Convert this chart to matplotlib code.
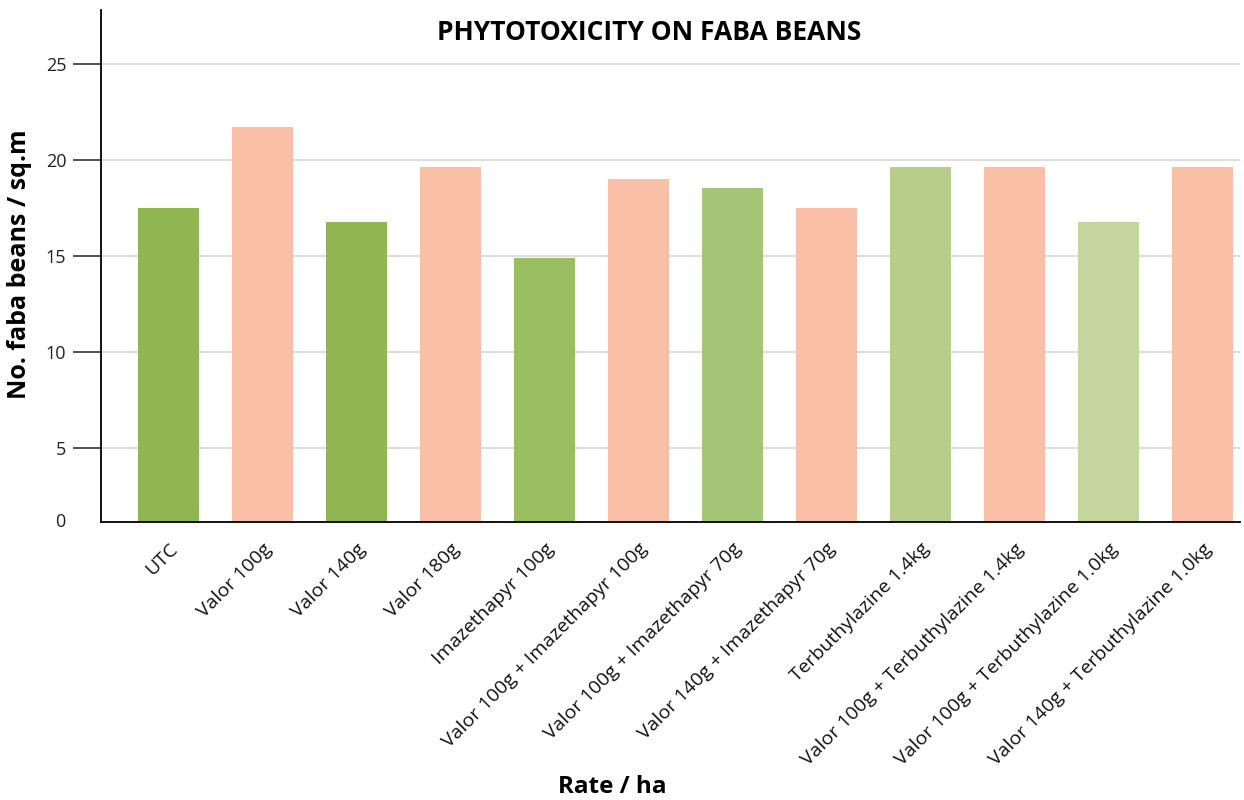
import matplotlib.pyplot as plt

# data
treatments = ['UTC', 'Valor 100g', 'Valor 140g', 'Valor 180g', 'Imazethapyr 100g',
              'Valor 100g + Imazethapyr 100g', 'Valor 100g + Imazethapyr 70g',
              'Valor 140g + Imazethapyr 70g', 'Terbuthylazine 1.4kg',
              'Valor 100g + Terbuthylazine 1.4kg', 'Valor 100g + Terbuthylazine 1.0kg',
              'Valor 140g + Terbuthylazine 1.0kg']
beans = [17.5, 21.7, 16.75, 19.6, 14.9, 19.0, 18.5, 17.5, 19.6, 19.6, 16.75, 19.6]
colors = ['#8fb650', '#f9bfa7', '#8fb650', '#f9bfa7', '#9abd5f', '#f9bfa7',
          '#a6c576', '#f9bfa7', '#b7cd8b', '#f9bfa7', '#c4d59e', '#f9bfa7']
yticks = [5, 10, 15, 20, 25]

plt.rcParams['font.family'] = ['Open Sans', 'DejaVu Sans']

fig = plt.figure(figsize=(12.44, 8), dpi=100)
ax = fig.add_axes([0.0812, 0.3478, 0.9156, 0.6398])

x = range(len(treatments))
ax.bar(x, beans, width=0.65, color=colors, zorder=2)

ax.set_ylim(1.16, 27.79)
ax.set_xlim(-0.718, 11.4)
ax.set_yticks(yticks)
ax.set_yticklabels([str(t) for t in yticks], fontsize=13, color='#222222')
# the reference shows a "0" at the foot of the axis, with no tick mark
ax.annotate('0', xy=(0, 0), xycoords='axes fraction', xytext=(-26, 0),
            textcoords='offset points', ha='right', va='center',
            fontsize=13, color='#222222')
ax.tick_params(axis='y', length=20, width=1.2, color='#333333', pad=5)
ax.grid(axis='y', color='#dddddd', linewidth=1.5, zorder=0)

ax.set_xticks(list(x))
ax.set_xticklabels(treatments, rotation=45, ha='right', va='top',
                   rotation_mode='anchor', fontsize=14, color='#111111')
ax.tick_params(axis='x', length=0, pad=13)

for s in ['top', 'right']:
    ax.spines[s].set_visible(False)
ax.spines['left'].set_linewidth(1.3)
ax.spines['bottom'].set_linewidth(1.3)

ax.set_ylabel('No. faba beans / sq.m', fontsize=18, fontweight='bold')
ax.yaxis.set_label_coords(-0.0606, 0.504)
ax.set_xlabel('Rate / ha', fontsize=17.5, fontweight='bold')
ax.xaxis.set_label_coords(0.449, -0.495)

fig.text(0.522, 0.959, 'PHYTOTOXICITY ON FABA BEANS', ha='center', va='center',
         fontsize=19, fontweight='bold')

plt.savefig('out.png', dpi=100)
